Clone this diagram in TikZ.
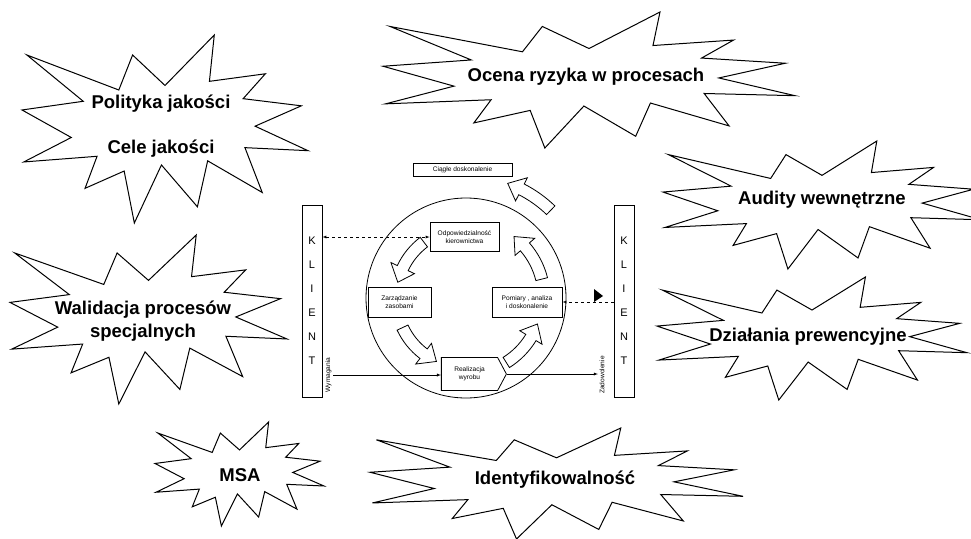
\documentclass[tikz,border=0pt]{standalone}
\usepackage{fontspec}
\setmainfont{Liberation Sans}
\usetikzlibrary{shapes.symbols}

\tikzset{
  seal/.style={draw,line width=1pt,fill=white},
  sealtext/.style={font=\fontsize{18.5}{22}\selectfont\bfseries,align=center},
  box/.style={draw,fill=white,line width=0.8pt,inner sep=0pt,align=center,font=\fontsize{6.6}{8}\selectfont},
  klient/.style={draw,line width=0.8pt,minimum width=20,minimum height=192,align=center,font=\fontsize{11}{24}\selectfont},
  turn/.style={draw,line width=0.8pt,fill=white},
  side/.style={rotate=90,inner sep=1.5pt,font=\fontsize{6.6}{8}\selectfont}
}

% explosion in a w x h box, top left corner at (x,y)
\newcommand{\seal}[4]{%
\draw[seal,shift={(#1,-#2)},xscale=#3/100,yscale=-#4/100]
  (50,26.85) -- (67.23,0) -- (65.53,24.65) -- (85.09,20.63) -- (77.32,33.87)
  -- (97.67,37.67) -- (81.51,48.5) -- (100,61.53) -- (77.95,59.92) -- (84,83.77)
  -- (64.91,66.93) -- (61.33,91.38) -- (48.76,69.14) -- (39.28,100) -- (35.72,72.35)
  -- (22.05,81.56) -- (26.24,64.52) -- (0.63,67.53) -- (17.23,54.51) -- (0,39.88)
  -- (21.42,35.26) -- (1.71,10.63) -- (33.85,29.26) -- (38.67,10.63) -- cycle;}

% curved block arrow round the cycle, radius r, from angle a to angle b
\newcommand{\turnarrow}[3]{%
\pgfmathsetmacro{\hd}{#3-15/#1*57.3}
\draw[turn,shift={(cycle.center)}] (#2:{#1-6}) arc[start angle=#2,end angle=\hd,radius=#1-6]
  -- (\hd:{#1-13}) -- (#3:#1) -- (\hd:{#1+13}) -- (\hd:{#1+6})
  arc[start angle=\hd,end angle=#2,radius=#1+6] -- cycle;}

\begin{document}
\begin{tikzpicture}[x=1pt,y=1pt]
\useasboundingbox (0,0) rectangle (971,-538);
\clip (0,0) rectangle (971,-538);

% explosions
\seal{22}{35}{286}{188}
\seal{383}{12}{412}{136}
\seal{663}{141}{318}{128}
\seal{10}{235}{277}{169}
\seal{657}{277}{310}{123}
\seal{155}{422}{169}{104}
\seal{370}{428}{373}{111}
\node[sealtext] (polityka) at (161,-126) {Polityka jakości\\[23pt]Cele jakości};
\node[sealtext] (ocena) at (586,-77) {Ocena ryzyka w procesach};
\node[sealtext] (audity) at (822,-200) {Audity wewnętrzne};
\node[sealtext,font=\fontsize{18.5}{23}\selectfont\bfseries] (walidacja) at (143,-321) {Walidacja procesów\\specjalnych};
\node[sealtext] (dzialania) at (808,-337) {Działania prewencyjne};
\node[sealtext] (msa) at (240,-475) {MSA};
\node[sealtext] (ident) at (555,-480) {Identyfikowalność};

% cycle
\node[draw,circle,line width=0.8pt,minimum size=200,inner sep=0pt] (cycle) at (466,-298) {};
\node[klient] (klientL) at (312,-301) {K\\L\\I\\E\\N\\T};
\node[klient] (klientR) at (624,-301) {K\\L\\I\\E\\N\\T};
\node[box,minimum width=99,minimum height=13] (ciagle) at (462.5,-169.5) {Ciągłe doskonalenie};
\node[box,minimum width=69,minimum height=29] (odp) at (464.5,-237) {Odpowiedzialność\\kierownictwa};
\node[box,minimum width=63,minimum height=30] (zarz) at (399.5,-302) {Zarządzanie\\zasobami};
\node[box,minimum width=70,minimum height=30] (pom) at (527,-302) {Pomiary , analiza\\i doskonalenie};
\node[box,shape=signal,signal to=east,signal pointer angle=124,minimum width=65,minimum height=33] (real) at (469.5,-374) {Realizacja\\wyrobu};
\node[side] (wym) at (328.5,-375) {Wymagania};
\node[side] (zad) at (602,-375) {Zadowolenie};

\turnarrow{122}{46}{70}
\turnarrow{70}{127}{167}
\turnarrow{70}{205}{245}
\turnarrow{76}{302}{340}
\turnarrow{78}{14}{52}

\draw[dashed,latex-latex] (klientL.east |- odp.west) -- (odp.west);
\draw[dashed,-latex] (klientR.west |- pom.east) -- (pom.east);
\fill (594,-289) -- (603,-296) -- (594,-302) -- cycle;
\draw[-latex] (wym.south) -- (wym.south -| real.west);
\draw[-latex] (real.east) -- (real.east -| zad.north);
\end{tikzpicture}
\end{document}
